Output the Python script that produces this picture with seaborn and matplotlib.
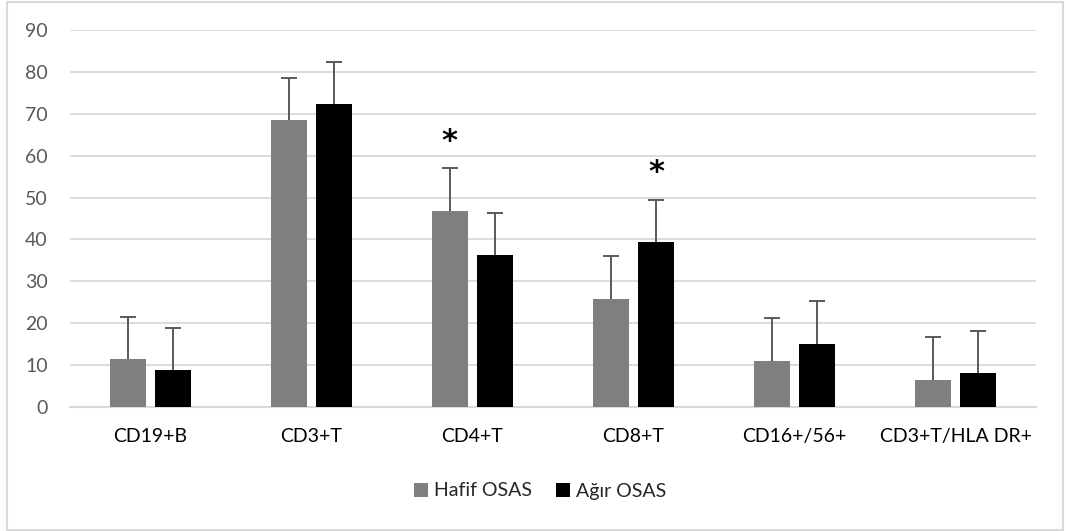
import numpy as np
import pandas as pd
import matplotlib
matplotlib.use("Agg")
import matplotlib.pyplot as plt
import seaborn as sns
from matplotlib.patches import Rectangle

# Lymphocyte subsets (%), mean and SD per OSAS severity group
categories = ["CD19+B", "CD3+T", "CD4+T", "CD8+T", "CD16+/56+", "CD3+T/HLA DR+"]
groups = ["Hafif OSAS", "Ağır OSAS"]
hafif_mean = [11.5, 68.5, 46.9, 25.8, 11.1, 6.5]
hafif_sd = [10.0, 10.0, 10.1, 10.2, 10.1, 10.1]
agir_mean = [8.8, 72.3, 36.4, 39.4, 15.1, 8.2]
agir_sd = [10.0, 10.0, 10.0, 10.1, 10.1, 10.0]
# significant differences marked with an asterisk: (category, group)
significant = [("CD4+T", "Hafif OSAS"), ("CD8+T", "Ağır OSAS")]
y_ticks = [0, 10, 20, 30, 40, 50, 60, 70, 80, 90]

colors = {"Hafif OSAS": "#7F7F7F", "Ağır OSAS": "#000000"}
grid_color = "#D9D9D9"
text_gray = "#595959"
font_size = 14

df = pd.DataFrame({
    "category": categories * 2,
    "group": [groups[0]] * len(categories) + [groups[1]] * len(categories),
    "value": hafif_mean + agir_mean,
    "sd": hafif_sd + agir_sd,
})

sns.set_theme(style="white")
plt.rcParams["font.family"] = ["Lato", "DejaVu Sans"]

W, H = 1066, 531
fig = plt.figure(figsize=(W / 100, H / 100), dpi=100)
ax = fig.add_axes([70 / W, 1 - 407 / H, (1036 - 70) / W, (407 - 30) / H])

sns.barplot(data=df, x="category", y="value", hue="group", order=categories,
            hue_order=groups, palette=colors, width=0.565, gap=0.207,
            errorbar=None, saturation=1, edgecolor="none", linewidth=0,
            ax=ax, zorder=3)

# upper-only error bars taken from each drawn bar
sd_lookup = {(r.category, r.group): r.sd for r in df.itertuples()}
bar_pos = {}
for container, g in zip(ax.containers, groups):
    for patch, cat in zip(container.patches, categories):
        xc = patch.get_x() + patch.get_width() / 2
        h = patch.get_height()
        sd = sd_lookup[(cat, g)]
        bar_pos[(cat, g)] = (xc, h + sd)
        eb = ax.errorbar(xc, h, yerr=[[0], [sd]], fmt="none", ecolor=text_gray,
                         elinewidth=1.4, capsize=5.5, capthick=1.4, zorder=4)
        # keep only the cap at the upper end
        for cap in eb[1]:
            if np.allclose(cap.get_ydata(), h):
                cap.set_visible(False)

for cat, g in significant:
    xc, top = bar_pos[(cat, g)]
    ax.text(xc, top + 6.4, "*", ha="center", va="center", fontsize=22,
            fontweight="bold", color="black", family="DejaVu Sans", zorder=5)

ax.set_ylim(0, 90)
ax.set_xlim(-0.5, len(categories) - 0.5)
ax.set_yticks(y_ticks)
ax.set_xlabel("")
ax.set_ylabel("")
ax.yaxis.grid(True, color=grid_color, linewidth=1.3, zorder=0)
ax.xaxis.grid(False)
ax.set_axisbelow(True)
for side in ["top", "right", "left"]:
    ax.spines[side].set_visible(False)
ax.spines["bottom"].set_color(grid_color)
ax.spines["bottom"].set_linewidth(1.5)
ax.spines["bottom"].set_zorder(2)
ax.tick_params(axis="y", length=0, pad=16, labelsize=font_size, labelcolor=text_gray)
ax.tick_params(axis="x", length=0, pad=15, labelsize=font_size, labelcolor="black")

handles, labels = ax.get_legend_handles_labels()
ax.get_legend().remove()
fig.legend(handles, labels, loc="center", bbox_to_anchor=(540 / W, 1 - 491 / H),
           ncol=2, frameon=False, fontsize=font_size, handlelength=0.75,
           handleheight=0.75, handletextpad=0.3, columnspacing=1.2)

# chart-area border
fig.patches.append(Rectangle((7 / W, 1 / H), (1063 - 7) / W, (529 - 1) / H,
                             transform=fig.transFigure, fill=False,
                             edgecolor=grid_color, linewidth=1.5))

fig.savefig("out.png", dpi=100)
